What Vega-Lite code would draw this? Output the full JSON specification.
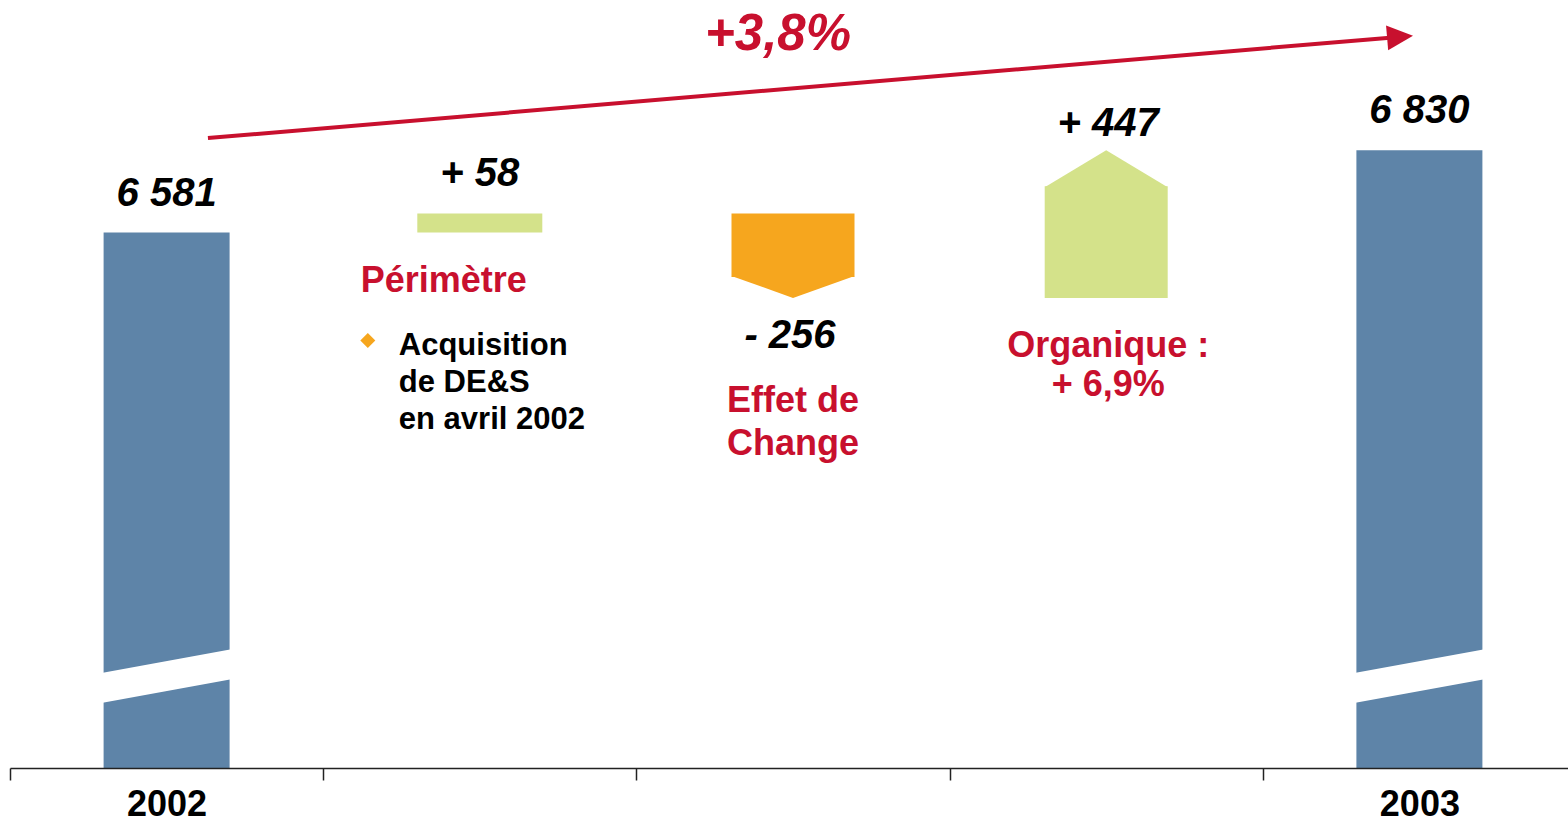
{
  "$schema": "https://vega.github.io/schema/vega-lite/v6.json",
  "width": 1558,
  "height": 768,
  "autosize": {"type": "none"},
  "padding": {"left": 10, "top": 0, "right": 0, "bottom": 56},
  "background": "white",
  "config": {"view": {"stroke": null}, "font": "Liberation Sans"},
  "data": {
    "values": [
      {"cat": "2002", "kind": "total", "start": null, "end": 6581, "label": "6 581"},
      {"cat": "Périmètre", "kind": "up", "start": 6581, "end": 6639, "label": "+ 58", "note": "Périmètre", "detail": "Acquisition\nde DE&S\nen avril 2002"},
      {"cat": "Effet de Change", "kind": "down", "start": 6639, "end": 6383, "label": "- 256", "note": "Effet de\nChange"},
      {"cat": "Organique", "kind": "uparrow", "start": 6383, "end": 6830, "label": "+ 447", "note": "Organique :\n+ 6,9%"},
      {"cat": "2003", "kind": "total", "start": null, "end": 6830, "label": "6 830"}
    ]
  },
  "layer": [
    {
      "transform": [{"filter": "datum.kind == 'total'"}],
      "mark": {"type": "bar", "width": 126, "color": "#5E84A8", "clip": true},
      "encoding": {
        "x": {
          "field": "cat", "type": "nominal",
          "scale": {"type": "band", "domain": ["2002", "Périmètre", "Effet de Change", "Organique", "2003"], "range": [0, 1566], "paddingInner": 0, "paddingOuter": 0},
          "axis": {
            "title": null, "grid": false, "labelAngle": 0,
            "domainColor": "#222222", "domainWidth": 1.5,
            "tickColor": "#222222", "tickWidth": 1.5, "tickSize": 12, "tickBand": "extent",
            "labelExpr": "datum.value == '2002' || datum.value == '2003' ? datum.value : ''",
            "labelFont": "Liberation Sans", "labelFontWeight": "bold", "labelFontSize": 36,
            "labelColor": "#000000", "labelPadding": 7, "zindex": 1
          }
        },
        "y": {"field": "end", "type": "quantitative", "scale": {"domain": [4960, 7285], "zero": false, "nice": false}, "axis": null},
        "y2": {"datum": 0}
      }
    },
    {
      "transform": [{"filter": "datum.kind == 'total'"}],
      "mark": {"type": "rule", "color": "#FFFFFF", "strokeWidth": 29.5},
      "encoding": {
        "x": {"field": "cat", "type": "nominal", "bandPosition": 0.2},
        "x2": {"field": "cat", "bandPosition": 0.8},
        "y": {"datum": 5186, "type": "quantitative"},
        "y2": {"datum": 5290}
      }
    },
    {
      "transform": [{"filter": "datum.kind == 'up'"}],
      "mark": {"type": "bar", "width": 125, "color": "#D4E28A"},
      "encoding": {
        "x": {"field": "cat", "type": "nominal"},
        "y": {"field": "start", "type": "quantitative"},
        "y2": {"field": "end"}
      }
    },
    {
      "transform": [{"filter": "datum.kind == 'down'"}],
      "mark": {"type": "bar", "width": 123, "color": "#F6A61E", "y2Offset": -21},
      "encoding": {
        "x": {"field": "cat", "type": "nominal"},
        "y": {"field": "start", "type": "quantitative"},
        "y2": {"field": "end"}
      }
    },
    {
      "transform": [{"filter": "datum.kind == 'down'"}],
      "mark": {"type": "point", "shape": "M-1,-0.358 L1,-0.358 L0,0 Z", "size": 15129, "filled": true, "opacity": 1, "strokeWidth": 0, "color": "#F6A61E"},
      "encoding": {
        "x": {"field": "cat", "type": "nominal"},
        "y": {"field": "end", "type": "quantitative"}
      }
    },
    {
      "transform": [{"filter": "datum.kind == 'uparrow'"}],
      "mark": {"type": "bar", "width": 123, "color": "#D4E28A", "y2Offset": 36},
      "encoding": {
        "x": {"field": "cat", "type": "nominal"},
        "y": {"field": "start", "type": "quantitative"},
        "y2": {"field": "end"}
      }
    },
    {
      "transform": [{"filter": "datum.kind == 'uparrow'"}],
      "mark": {"type": "point", "shape": "M-1,0.6016 L1,0.6016 L0,0 Z", "size": 15129, "filled": true, "opacity": 1, "strokeWidth": 0, "color": "#D4E28A"},
      "encoding": {
        "x": {"field": "cat", "type": "nominal"},
        "y": {"field": "end", "type": "quantitative"}
      }
    },
    {
      "transform": [{"filter": "datum.kind == 'total' || datum.kind == 'up'"}],
      "mark": {"type": "text", "font": "Liberation Sans", "fontSize": 40, "fontWeight": "bold", "fontStyle": "italic", "color": "#000000", "align": "center", "baseline": "alphabetic", "dy": -27},
      "encoding": {
        "x": {"field": "cat", "type": "nominal"},
        "y": {"field": "end", "type": "quantitative"},
        "text": {"field": "label"}
      }
    },
    {
      "transform": [{"filter": "datum.kind == 'down'"}],
      "mark": {"type": "text", "font": "Liberation Sans", "fontSize": 40, "fontWeight": "bold", "fontStyle": "italic", "color": "#000000", "align": "center", "baseline": "alphabetic", "dy": 50, "dx": -3},
      "encoding": {
        "x": {"field": "cat", "type": "nominal"},
        "y": {"field": "end", "type": "quantitative"},
        "text": {"field": "label"}
      }
    },
    {
      "transform": [{"filter": "datum.kind == 'uparrow'"}],
      "mark": {"type": "text", "font": "Liberation Sans", "fontSize": 40, "fontWeight": "bold", "fontStyle": "italic", "color": "#000000", "align": "center", "baseline": "alphabetic", "dy": -14, "dx": 2},
      "encoding": {
        "x": {"field": "cat", "type": "nominal"},
        "y": {"field": "end", "type": "quantitative"},
        "text": {"field": "label"}
      }
    },
    {
      "transform": [{"filter": "datum.kind == 'up'"}],
      "mark": {"type": "text", "font": "Liberation Sans", "fontSize": 36, "fontWeight": "bold", "color": "#C8102E", "align": "center", "baseline": "alphabetic", "dx": -36, "dy": 59},
      "encoding": {
        "x": {"field": "cat", "type": "nominal"},
        "y": {"field": "start", "type": "quantitative"},
        "text": {"field": "note"}
      }
    },
    {
      "transform": [{"filter": "datum.kind == 'up'"}],
      "mark": {"type": "text", "font": "Liberation Sans", "fontSize": 31, "fontWeight": "bold", "color": "#000000", "align": "left", "baseline": "alphabetic", "dx": -81, "dy": 122, "lineBreak": "\n", "lineHeight": 37},
      "encoding": {
        "x": {"field": "cat", "type": "nominal"},
        "y": {"field": "start", "type": "quantitative"},
        "text": {"field": "detail"}
      }
    },
    {
      "transform": [{"filter": "datum.kind == 'up'"}],
      "mark": {"type": "point", "shape": "M0,-1 L1,0 L0,1 L-1,0 Z", "size": 225, "filled": true, "opacity": 1, "strokeWidth": 0, "color": "#F6A61E", "xOffset": -112, "yOffset": 108},
      "encoding": {
        "x": {"field": "cat", "type": "nominal"},
        "y": {"field": "start", "type": "quantitative"}
      }
    },
    {
      "transform": [{"filter": "datum.kind == 'down'"}],
      "mark": {"type": "text", "font": "Liberation Sans", "fontSize": 36, "fontWeight": "bold", "color": "#C8102E", "align": "center", "baseline": "alphabetic", "dy": 114, "lineBreak": "\n", "lineHeight": 43},
      "encoding": {
        "x": {"field": "cat", "type": "nominal"},
        "y": {"field": "end", "type": "quantitative"},
        "text": {"field": "note"}
      }
    },
    {
      "transform": [{"filter": "datum.kind == 'uparrow'"}],
      "mark": {"type": "text", "font": "Liberation Sans", "fontSize": 36, "fontWeight": "bold", "color": "#C8102E", "align": "center", "baseline": "alphabetic", "dx": 2, "dy": 59, "lineBreak": "\n", "lineHeight": 39},
      "encoding": {
        "x": {"field": "cat", "type": "nominal"},
        "y": {"field": "start", "type": "quantitative"},
        "text": {"field": "note"}
      }
    },
    {
      "data": {"values": [{"from": "2002", "to": "2003", "growth": "+3,8%"}]},
      "mark": {"type": "rule", "color": "#C8102E", "strokeWidth": 4},
      "encoding": {
        "x": {"field": "from", "type": "nominal", "bandPosition": 0.632},
        "x2": {"field": "to", "bandPosition": 0.406},
        "y": {"datum": 6867, "type": "quantitative"},
        "y2": {"datum": 7171}
      }
    },
    {
      "data": {"values": [{"from": "2002", "to": "2003", "growth": "+3,8%"}]},
      "mark": {"type": "point", "shape": "M0,0 L-2,-0.96 L-2,0.96 Z", "size": 676, "angle": -4.85, "filled": true, "opacity": 1, "strokeWidth": 0, "color": "#C8102E"},
      "encoding": {
        "x": {"field": "to", "type": "nominal", "bandPosition": 0.4796},
        "y": {"datum": 7177, "type": "quantitative"}
      }
    },
    {
      "data": {"values": [{"from": "2002", "to": "2003", "growth": "+3,8%"}]},
      "mark": {"type": "text", "font": "Liberation Sans", "fontSize": 51, "fontWeight": "bold", "fontStyle": "italic", "color": "#C8102E", "align": "center", "baseline": "alphabetic", "dx": -15},
      "encoding": {
        "x": {"datum": "Effet de Change", "type": "nominal"},
        "y": {"datum": 7134, "type": "quantitative"},
        "text": {"field": "growth"}
      }
    }
  ]
}
